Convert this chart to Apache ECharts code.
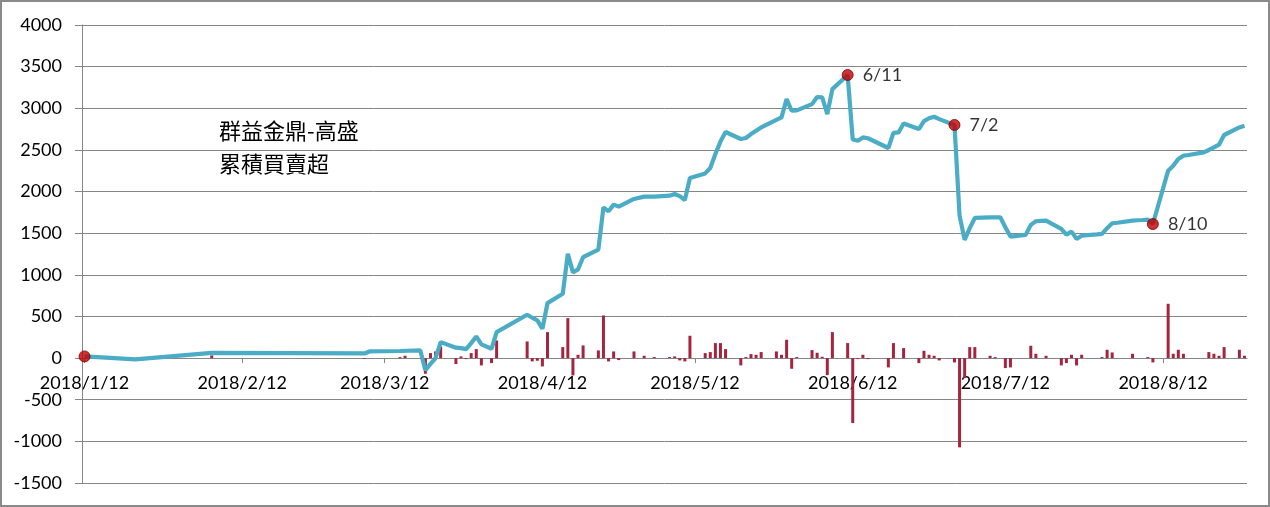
<!DOCTYPE html>
<html><head><meta charset="utf-8">
<script src="https://cdn.jsdelivr.net/npm/echarts@6/dist/echarts.min.js"></script>
<style>html,body{margin:0;padding:0;background:#fff}#c{width:1270px;height:507px}</style>
</head><body><div id="c"></div>
<script>
// ---- data ----
const lineDates = ['2018-01-12','2018-01-22','2018-02-06','2018-03-08','2018-03-09','2018-03-15','2018-03-19','2018-03-20','2018-03-21','2018-03-22','2018-03-23','2018-03-26','2018-03-27','2018-03-28','2018-03-29','2018-03-30','2018-03-31','2018-04-02','2018-04-03','2018-04-09','2018-04-10','2018-04-11','2018-04-12','2018-04-13','2018-04-16','2018-04-17','2018-04-18','2018-04-19','2018-04-20','2018-04-23','2018-04-24','2018-04-25','2018-04-26','2018-04-27','2018-04-30','2018-05-02','2018-05-03','2018-05-04','2018-05-07','2018-05-08','2018-05-09','2018-05-10','2018-05-11','2018-05-14','2018-05-15','2018-05-16','2018-05-17','2018-05-18','2018-05-21','2018-05-22','2018-05-23','2018-05-24','2018-05-25','2018-05-28','2018-05-29','2018-05-30','2018-05-31','2018-06-01','2018-06-04','2018-06-05','2018-06-06','2018-06-07','2018-06-08','2018-06-11','2018-06-12','2018-06-13','2018-06-14','2018-06-15','2018-06-19','2018-06-20','2018-06-21','2018-06-22','2018-06-25','2018-06-26','2018-06-27','2018-06-28','2018-06-29','2018-07-02','2018-07-03','2018-07-04','2018-07-05','2018-07-06','2018-07-09','2018-07-10','2018-07-11','2018-07-12','2018-07-13','2018-07-16','2018-07-17','2018-07-18','2018-07-19','2018-07-20','2018-07-23','2018-07-24','2018-07-25','2018-07-26','2018-07-27','2018-07-30','2018-07-31','2018-08-01','2018-08-02','2018-08-03','2018-08-06','2018-08-07','2018-08-08','2018-08-09','2018-08-10','2018-08-13','2018-08-14','2018-08-15','2018-08-16','2018-08-17','2018-08-20','2018-08-21','2018-08-22','2018-08-23','2018-08-24','2018-08-27','2018-08-28'];
const lineValues = [20,-16,62,56,80,85,92,-145,-70,0,192,125,120,108,180,260,164,112,312,520,485,452,352,660,772,1252,1030,1065,1211,1303,1811,1763,1843,1819,1911,1939,1940,1940,1950,1971,1945,1899,2163,2218,2283,2451,2600,2715,2631,2643,2690,2730,2770,2860,2890,3110,2970,2975,3050,3135,3130,2930,3230,3400,2625,2610,2650,2640,2523,2705,2710,2818,2750,2845,2880,2898,2870,2800,1711,1420,1560,1683,1690,1691,1691,1571,1459,1480,1600,1643,1648,1651,1551,1483,1519,1432,1470,1485,1492,1560,1619,1625,1651,1655,1658,1663,1610,2251,2311,2390,2431,2439,2470,2499,2530,2563,2679,2770,2790];

const barDates = ['2018-01-18','2018-02-06','2018-03-08','2018-03-15','2018-03-16','2018-03-20','2018-03-21','2018-03-22','2018-03-23','2018-03-26','2018-03-27','2018-03-28','2018-03-29','2018-03-30','2018-03-31','2018-04-02','2018-04-03','2018-04-09','2018-04-10','2018-04-11','2018-04-12','2018-04-13','2018-04-16','2018-04-17','2018-04-18','2018-04-19','2018-04-20','2018-04-23','2018-04-24','2018-04-25','2018-04-26','2018-04-27','2018-04-30','2018-05-02','2018-05-04','2018-05-07','2018-05-08','2018-05-09','2018-05-10','2018-05-11','2018-05-14','2018-05-15','2018-05-16','2018-05-17','2018-05-18','2018-05-21','2018-05-22','2018-05-23','2018-05-24','2018-05-25','2018-05-28','2018-05-29','2018-05-30','2018-05-31','2018-06-01','2018-06-04','2018-06-05','2018-06-06','2018-06-07','2018-06-08','2018-06-11','2018-06-12','2018-06-13','2018-06-14','2018-06-15','2018-06-19','2018-06-20','2018-06-22','2018-06-25','2018-06-26','2018-06-27','2018-06-28','2018-06-29','2018-07-02','2018-07-03','2018-07-04','2018-07-05','2018-07-06','2018-07-09','2018-07-10','2018-07-12','2018-07-13','2018-07-17','2018-07-18','2018-07-20','2018-07-23','2018-07-24','2018-07-25','2018-07-26','2018-07-27','2018-07-31','2018-08-01','2018-08-02','2018-08-06','2018-08-09','2018-08-10','2018-08-13','2018-08-14','2018-08-15','2018-08-16','2018-08-21','2018-08-22','2018-08-23','2018-08-24','2018-08-27','2018-08-28'];
const barValues = [-8,32,-8,12,28,-188,60,80,140,-72,20,-12,60,108,-88,-60,212,200,-40,-32,-100,312,132,480,-208,40,152,92,512,-40,80,-24,80,28,12,12,20,-28,-40,268,60,72,180,180,108,-88,12,48,40,72,80,40,220,-128,12,96,64,16,-204,312,180,-780,-12,40,-12,-112,180,120,-60,88,40,28,-28,-52,-1072,-240,132,132,28,12,-120,-112,148,52,28,-88,-60,40,-88,40,12,100,68,52,12,-52,652,52,100,52,72,52,28,132,100,28];

const highlightDates = ['2018-01-12','2018-06-11','2018-07-02','2018-08-10'];
const highlightLabels = ['', '6/11', '7/2', '8/10'];

const tickDates = ['2018-01-12','2018-02-12','2018-03-12','2018-04-12','2018-05-12','2018-06-12','2018-07-12','2018-08-12'];
const tickLabels = ['2018/1/12','2018/2/12','2018/3/12','2018/4/12','2018/5/12','2018/6/12','2018/7/12','2018/8/12'];

const yMin = -1500, yMax = 4000, yStep = 500;

const annotationLines = ['群益金鼎-高盛', '累積買賣超'];

// ---- helpers ----
function toTs(s, h) {
  const p = s.split('-').map(Number);
  return new Date(p[0], p[1] - 1, p[2], h || 0).getTime();
}
const tickTs = tickDates.map(d => toTs(d));
const lineData = lineDates.map((d, i) => [toTs(d), lineValues[i]]);
const barData = barDates.map((d, i) => [toTs(d), barValues[i]]);
const hiData = highlightDates.map((d, i) => [toTs(d), lineValues[lineDates.indexOf(d)], highlightLabels[i]]);

const FONT = 'Lato, "Open Sans", sans-serif';
const GRID = '#868686';
const GRID_TOP = 25, GRID_BOTTOM = 24, H = 507;
const plotH = H - GRID_TOP - GRID_BOTTOM;
// place the category (date) axis on the zero line of the value axis
const xOffset = -plotH * (0 - yMin) / (yMax - yMin);

const chart = echarts.init(document.getElementById('c'), null, {renderer: 'canvas'});
chart.setOption({
  animation: false,
  backgroundColor: '#fff',
  grid: {left: 82, right: 23, top: GRID_TOP, bottom: GRID_BOTTOM, containLabel: false, outerBoundsMode: 'none'},
  xAxis: {
    type: 'value',
    scale: true,
    position: 'bottom',
    offset: xOffset,
    min: toTs('2018-01-11', 12),
    max: toTs('2018-08-28', 12),
    splitLine: {show: false},
    axisLine: {show: true, onZero: false, lineStyle: {color: GRID, width: 1}},
    axisTick: {show: true, customValues: tickTs, length: 5, lineStyle: {color: GRID}},
    axisLabel: {
      customValues: tickTs,
      margin: 16,
      fontSize: 18,
      fontFamily: FONT,
      color: '#000',
      formatter: function (v) { const i = tickTs.indexOf(v); return i >= 0 ? tickLabels[i] : ''; }
    }
  },
  yAxis: {
    type: 'value',
    min: yMin, max: yMax, interval: yStep,
    axisLine: {show: true, onZero: false, lineStyle: {color: GRID, width: 1}},
    axisTick: {show: true, length: 7, lineStyle: {color: GRID}},
    splitLine: {show: true, lineStyle: {color: GRID, width: 1}},
    axisLabel: {margin: 20, fontSize: 18, fontFamily: FONT, color: '#000', formatter: v => String(v)}
  },
  graphic: [
    {type: 'rect', silent: true, z: 100, shape: {x: 1, y: 1, width: 1268, height: 505},
     style: {fill: 'none', stroke: '#8a8a8a', lineWidth: 2}},
    {type: 'text', left: 219, top: 120, z: 100,
     style: {text: annotationLines[0], font: '22px "Noto Sans CJK TC"', fill: '#000'}},
    {type: 'text', left: 219, top: 153, z: 100,
     style: {text: annotationLines[1], font: '22px "Noto Sans CJK TC"', fill: '#000'}}
  ],
  series: [
    {type: 'bar', data: barData, barWidth: 3, itemStyle: {color: '#A3253F'}, z: 2},
    {type: 'line', data: lineData, symbol: 'none', smooth: false,
     lineStyle: {color: '#4BACC6', width: 4.2}, itemStyle: {color: '#4BACC6'}, z: 3},
    {type: 'scatter', data: hiData, symbol: 'circle', symbolSize: 11, z: 4,
     itemStyle: {color: '#C00000', borderColor: '#7A0000', borderWidth: 1},
     label: {show: true, position: 'right', distance: 9, fontSize: 18, fontFamily: FONT, color: '#000',
             formatter: p => p.data[2]}}
  ]
});
</script></body></html>
